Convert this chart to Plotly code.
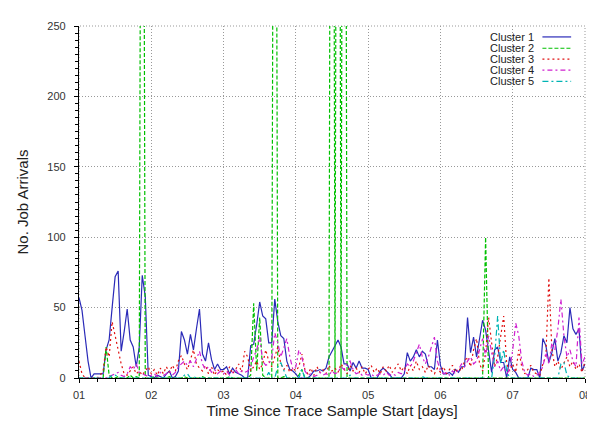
import plotly.graph_objects as go

# hourly samples, 7 days (169 points), x expressed in days 1..8
hours = list(range(169))
days = [1 + h / 24 for h in hours]

cluster1 = [57, 48, 30, 12, 0, 3, 3, 3, 3, 20, 27, 50, 72, 76, 19, 33, 49, 27, 22, 8, 22, 73, 58, 2,
            1, 0, 2, 1, 0, 3, 5, 0, 1, 5, 33, 27, 17, 31, 20, 35, 49, 17, 12, 25, 13, 6, 10, 6,
            6, 8, 3, 7, 4, 3, 2, 0, 0, 23, 24, 38, 54, 44, 42, 25, 25, 56, 40, 30, 28, 12, 6, 5,
            3, 0, 0, 0, 0, 2, 5, 5, 6, 5, 7, 15, 19, 24, 27, 22, 10, 10, 5, 11, 7, 12, 7, 7,
            6, 0, 0, 0, 5, 7, 5, 3, 0, 0, 0, 0, 3, 18, 12, 15, 20, 15, 19, 17, 8, 8, 6, 27,
            9, 3, 3, 4, 2, 6, 4, 8, 8, 43, 18, 29, 15, 27, 41, 34, 20, 4, 20, 22, 11, 11, 0, 15,
            6, 4, 0, 0, 0, 0, 7, 6, 6, 0, 28, 23, 11, 18, 28, 12, 18, 30, 25, 50, 35, 31, 35, 5, 10]

cluster2 = [0, 0, 0, 0, 0, 0, 0, 0, 0, 22, 2, 0, 0, 1, 0, 0, 0, 2, 0, 1, 0, 800, 0, 0,
            0, 1, 0, 0, 0, 0, 1, 0, 0, 0, 0, 1, 0, 0, 0, 0, 0, 1, 0, 0, 0, 0, 0, 0,
            0, 0, 1, 0, 0, 0, 0, 0, 0, 2, 53, 5, 43, 2, 0, 0, 0, 800, 0, 0, 1, 0, 0, 0,
            0, 2, 6, 0, 0, 0, 0, 0, 0, 0, 0, 0, 1000, 0, 1000, 0, 1000, 0, 0, 0, 0, 0, 0, 0,
            0, 0, 0, 0, 0, 0, 0, 0, 0, 0, 0, 0, 0, 0, 0, 0, 0, 0, 0, 0, 0, 0, 0, 0,
            0, 0, 0, 0, 0, 0, 0, 0, 0, 0, 0, 0, 0, 0, 0, 100, 0, 0, 0, 0, 0, 0, 0, 0,
            0, 0, 0, 0, 0, 0, 0, 0, 0, 0, 0, 0, 0, 0, 0, 0, 0, 0, 0, 0, 0, 0, 0, 0, 0]

cluster3 = [12, 3, 0, 0, 0, 0, 0, 2, 5, 22, 15, 40, 30, 18, 10, 3, 2, 5, 8, 3, 5, 2, 5, 8,
            3, 6, 2, 7, 3, 8, 4, 9, 5, 12, 16, 10, 6, 14, 20, 10, 7, 5, 9, 3, 8, 2, 6, 4,
            5, 2, 8, 3, 6, 10, 4, 19, 15, 5, 8, 12, 6, 10, 20, 12, 8, 15, 22, 10, 6, 9, 4, 7,
            5, 8, 17, 6, 3, 7, 2, 8, 4, 6, 3, 9, 5, 7, 4, 10, 6, 3, 9, 5, 7, 4, 8, 3,
            6, 9, 4, 7, 3, 8, 5, 9, 4, 7, 10, 5, 8, 3, 9, 5, 12, 6, 8, 4, 9, 5, 3, 7,
            4, 8, 3, 6, 9, 4, 7, 5, 12, 15, 8, 20, 28, 10, 5, 18, 43, 25, 8, 15, 30, 44, 10, 5,
            10, 4, 20, 8, 3, 6, 9, 4, 3, 2, 10, 15, 71, 20, 8, 12, 6, 10, 15, 8, 12, 6, 10, 4, 12]

cluster4 = [0, 0, 0, 0, 0, 0, 0, 0, 0, 0, 1, 2, 3, 4, 2, 1, 3, 8, 6, 10, 4, 3, 2, 1,
            2, 3, 1, 4, 2, 3, 5, 2, 4, 8, 10, 12, 9, 12, 8, 14, 19, 10, 6, 8, 4, 6, 3, 5,
            3, 5, 2, 4, 6, 3, 5, 4, 5, 8, 15, 20, 29, 12, 9, 10, 14, 32, 25, 15, 22, 28, 15, 6,
            8, 20, 15, 5, 2, 3, 1, 2, 4, 2, 3, 2, 5, 3, 4, 8, 6, 10, 12, 6, 3, 4, 2, 3,
            2, 3, 1, 2, 3, 2, 4, 2, 3, 2, 4, 3, 5, 10, 8, 12, 18, 24, 15, 10, 15, 22, 29, 12,
            5, 3, 4, 2, 5, 3, 6, 10, 8, 12, 15, 10, 12, 20, 28, 15, 30, 18, 8, 12, 5, 8, 3, 6,
            20, 39, 30, 12, 4, 2, 3, 1, 2, 4, 8, 18, 10, 25, 20, 35, 56, 30, 15, 20, 12, 8, 43, 10, 15]

cluster5 = [0, 0, 0, 0, 0, 0, 0, 0, 0, 0, 0, 2, 2, 1, 0, 0, 0, 0, 0, 0, 0, 0, 0, 0,
            0, 0, 0, 0, 0, 0, 0, 0, 0, 0, 0, 2, 3, 0, 1, 0, 0, 0, 0, 0, 0, 0, 0, 0,
            0, 0, 0, 0, 0, 0, 0, 0, 0, 0, 0, 0, 0, 0, 0, 4, 0, 0, 8, 11, 5, 0, 0, 0,
            0, 0, 6, 0, 0, 0, 0, 0, 0, 0, 0, 0, 0, 0, 0, 0, 0, 0, 2, 0, 0, 0, 0, 0,
            0, 0, 0, 0, 0, 0, 0, 0, 0, 0, 0, 0, 0, 0, 0, 0, 0, 0, 1, 0, 0, 0, 0, 0,
            0, 0, 0, 0, 0, 0, 0, 0, 0, 0, 0, 0, 0, 0, 0, 0, 0, 0, 15, 44, 10, 20, 5, 0,
            0, 0, 0, 0, 0, 0, 0, 0, 0, 0, 0, 0, 0, 0, 0, 0, 10, 11, 2, 0, 0, 0, 0, 0, 0]

names = ["Cluster 1", "Cluster 2", "Cluster 3", "Cluster 4", "Cluster 5"]
series = [cluster1, cluster2, cluster3, cluster4, cluster5]
colors = ["#2a2ab8", "#00c000", "#e01010", "#d020d0", "#00b4b4"]
dashes = ["solid", "4px,2px", "2px,3px", "2px,3px,5px,3px", "6px,3px,2px,3px"]

fig = go.Figure()
for name, vals, col, d in zip(names, series, colors, dashes):
    fig.add_trace(go.Scatter(x=days, y=vals, mode="lines", name=name,
                             line=dict(color=col, width=1.2, dash=d),
                             showlegend=False))

# gnuplot-style legend (text then sample) in top right
L, R, T, B, W, H = 71, 13, 12, 45, 595, 421
pw, ph = W - L - R, H - T - B
rows = [23.3, 35, 46.3, 57.7, 69.3]
for name, col, d, py in zip(names, colors, dashes, rows):
    yp = (H - B - py) / ph
    fig.add_annotation(x=(532 - L) / pw, y=yp, xref="paper", yref="paper",
                       text=name, showarrow=False, xanchor="right", yanchor="middle",
                       borderpad=0,
                       font=dict(family="Liberation Sans, Arial, sans-serif", size=11, color="#222"))
    fig.add_shape(type="line", xref="paper", yref="paper",
                  x0=(539 - L) / pw, x1=(568 - L) / pw, y0=yp, y1=yp,
                  line=dict(color=col, width=1.2, dash=d))

# dotted top/right border
fig.add_shape(type="rect", xref="paper", yref="paper", x0=0, x1=1, y0=0, y1=1,
              line=dict(color="#999", width=1, dash="1px,2px"), layer="below")

fig.update_layout(
    width=W, height=H,
    margin=dict(l=L, r=R, t=T, b=B),
    plot_bgcolor="white", paper_bgcolor="white",
    font=dict(family="Liberation Sans, Arial, sans-serif", size=11, color="#333"),
    xaxis=dict(range=[1, 8], tickmode="linear", tick0=1, dtick=1, tickformat="02d",
               showline=True, linecolor="black", linewidth=1.2, mirror=False,
               ticks="outside", ticklen=4, tickcolor="black", ticklabelstandoff=3,
               showgrid=True, gridcolor="#999", griddash="1px,2px", gridwidth=1,
               zeroline=False,
               minor=dict(dtick=0.25, tick0=1, ticks="outside", ticklen=3, tickcolor="black", showgrid=False),
               title=dict(text="Time Since Trace Sample Start [days]", font=dict(size=15, color="#222"), standoff=5)),
    yaxis=dict(range=[0, 250], tickmode="linear", tick0=0, dtick=50,
               showline=True, linecolor="black", linewidth=1.2, mirror=False,
               ticks="outside", ticklen=4, tickcolor="black", ticklabelstandoff=6,
               showgrid=True, gridcolor="#999", griddash="1px,2px", gridwidth=1,
               zeroline=False,
               minor=dict(dtick=5, tick0=0, ticks="outside", ticklen=3, tickcolor="black", showgrid=False),
               title=dict(text="No. Job Arrivals", font=dict(size=15, color="#222"), standoff=15)),
)

fig.write_html("out.html")
